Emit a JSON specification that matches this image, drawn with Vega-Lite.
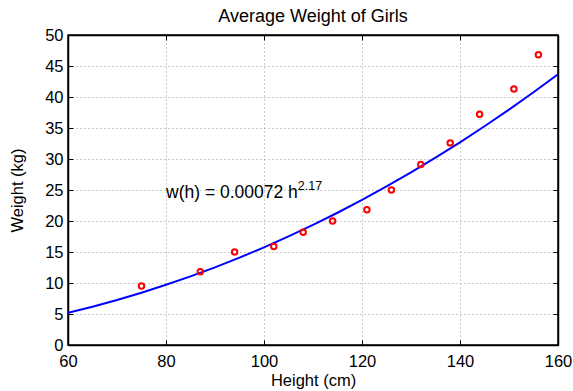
{
  "$schema": "https://vega.github.io/schema/vega-lite/v6.json",
  "width": 490,
  "height": 310,
  "autosize": "none",
  "padding": {"left": 68, "top": 35, "right": 15, "bottom": 46},
  "background": "white",
  "title": {"text": "Average Weight of Girls", "fontSize": 18, "font": "Liberation Sans", "fontWeight": "normal", "color": "black", "offset": 1},
  "config": {
    "view": {"stroke": "black", "strokeWidth": 1.5},
    "axis": {"labelFont": "Liberation Sans", "titleFont": "Liberation Sans", "labelFontSize": 16.5, "titleFontSize": 16.5, "titleFontWeight": "normal", "labelColor": "black", "titleColor": "black", "domainColor": "black", "domainWidth": 1.5, "tickColor": "black", "tickWidth": 1, "tickSize": -5, "gridColor": "#999999", "gridDash": [1, 3], "gridOpacity": 1, "gridWidth": 1, "labelFlush": false, "labelOverlap": false}
  },
  "datasets": {
    "curve": [
      {"h": 60, "w": 5.20}, {"h": 65, "w": 6.18}, {"h": 70, "w": 7.26}, {"h": 75, "w": 8.44},
      {"h": 80, "w": 9.71}, {"h": 85, "w": 11.07}, {"h": 90, "w": 12.53}, {"h": 95, "w": 14.09},
      {"h": 100, "w": 15.75}, {"h": 105, "w": 17.51}, {"h": 110, "w": 19.37}, {"h": 115, "w": 21.33},
      {"h": 120, "w": 23.40}, {"h": 125, "w": 25.57}, {"h": 130, "w": 27.84}, {"h": 135, "w": 30.21},
      {"h": 140, "w": 32.69}, {"h": 145, "w": 35.28}, {"h": 150, "w": 37.97}, {"h": 155, "w": 40.77},
      {"h": 160, "w": 43.66}
    ],
    "pts": [
      {"h": 75, "w": 9.5}, {"h": 87, "w": 11.8}, {"h": 94, "w": 15.0}, {"h": 102, "w": 15.9},
      {"h": 108, "w": 18.2}, {"h": 114, "w": 20.0}, {"h": 121, "w": 21.8}, {"h": 126, "w": 25.0},
      {"h": 132, "w": 29.1}, {"h": 138, "w": 32.6}, {"h": 144, "w": 37.2}, {"h": 151, "w": 41.3},
      {"h": 156, "w": 46.8}
    ],
    "ann": [{"h": 80, "w": 23.7, "t": "w(h) = 0.00072 h"}],
    "sup": [{"h": 106.9, "w": 25.0, "t": "2.17"}]
  },
  "layer": [
    {
      "data": {"name": "curve"},
      "mark": {"type": "line", "color": "#0000ff", "strokeWidth": 2, "clip": true},
      "encoding": {
        "x": {"field": "h", "type": "quantitative", "scale": {"domain": [60, 160], "nice": false, "zero": false}, "axis": {"orient": "bottom", "title": "Height (cm)", "values": [60, 80, 100, 120, 140, 160], "grid": true, "labelPadding": 13, "titlePadding": 3}},
        "y": {"field": "w", "type": "quantitative", "scale": {"domain": [0, 50], "nice": false}, "axis": {"orient": "left", "title": "Weight (kg)", "values": [0, 5, 10, 15, 20, 25, 30, 35, 40, 45, 50], "grid": true, "labelPadding": 10, "titlePadding": 19}}
      }
    },
    {
      "data": {"name": "pts"},
      "mark": {"type": "point", "shape": "circle", "filled": false, "color": "#ff0000", "strokeWidth": 2, "size": 30, "opacity": 1},
      "encoding": {
        "x": {"field": "h", "type": "quantitative", "axis": {"orient": "top", "title": null, "labels": false, "values": [60, 80, 100, 120, 140, 160], "grid": false}},
        "y": {"field": "w", "type": "quantitative", "axis": {"orient": "right", "title": null, "labels": false, "values": [0, 5, 10, 15, 20, 25, 30, 35, 40, 45, 50], "grid": false}}
      }
    },
    {
      "data": {"name": "ann"},
      "mark": {"type": "text", "align": "left", "baseline": "alphabetic", "font": "Liberation Sans", "fontSize": 17.5, "color": "black"},
      "encoding": {
        "x": {"field": "h", "type": "quantitative", "axis": null},
        "y": {"field": "w", "type": "quantitative", "axis": null},
        "text": {"field": "t"}
      }
    },
    {
      "data": {"name": "sup"},
      "mark": {"type": "text", "align": "left", "baseline": "alphabetic", "font": "Liberation Sans", "fontSize": 12.5, "color": "black"},
      "encoding": {
        "x": {"field": "h", "type": "quantitative", "axis": null},
        "y": {"field": "w", "type": "quantitative", "axis": null},
        "text": {"field": "t"}
      }
    }
  ],
  "resolve": {"axis": {"x": "independent", "y": "independent"}}
}
